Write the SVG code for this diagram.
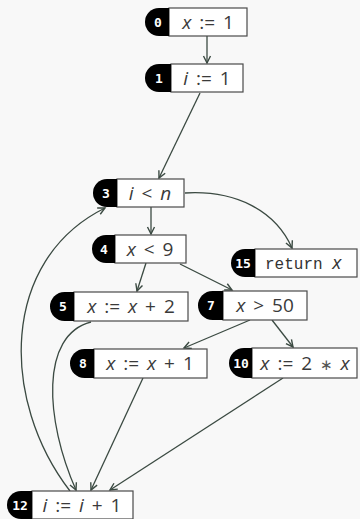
<svg xmlns="http://www.w3.org/2000/svg" width="360" height="519" viewBox="0 0 360 519">
<defs>
<marker id="ah" markerUnits="userSpaceOnUse" markerWidth="10" markerHeight="10" refX="8" refY="4.5" orient="auto">
<path d="M1,1 L8,4.5 L1,8" fill="none" stroke="#3b4a42" stroke-width="1.4"/>
</marker>
</defs>
<style>
.box{fill:#fff;stroke:#4a4a4a;stroke-width:1.2}
.tab{fill:#000}
.num{font-family:"DejaVu Sans Mono",monospace;font-weight:bold;font-size:13px;fill:#fff;text-anchor:middle}
.lbl{font-family:"Open Sans","DejaVu Sans",sans-serif;font-size:19px;fill:#3a3a3a;text-anchor:middle;word-spacing:3px}
.mono{font-family:"Liberation Mono",monospace;font-size:16px;fill:#333}
.it{font-style:italic}
.ast{font-family:"DejaVu Sans",sans-serif;font-size:15px;fill:#555}
.e{fill:none;stroke:#3b4a42;stroke-width:1.3;marker-end:url(#ah)}
</style>
<rect width="360" height="519" fill="#f8f8f8"/>
<g id="edges">
<path class="e" d="M207,36 L207,63"/>
<path class="e" d="M200,93 L159,178"/>
<path class="e" d="M151,207 L151,234"/>
<path class="e" d="M185,193 C235,190 275,210 292,248"/>
<path class="e" d="M146,263 L137,291"/>
<path class="e" d="M180,264 L232,290"/>
<path class="e" d="M250,320 L184,348"/>
<path class="e" d="M272,320 L293,347"/>
<path class="e" d="M91,322 C40,335 45,420 76,490"/>
<path class="e" d="M143,378 L91,490"/>
<path class="e" d="M283,378 L110,490"/>
<path class="e" d="M70,491 C0,400 0,260 105,208"/>
</g>
<g id="n0">
<rect class="box" x="169" y="8" width="78" height="28"/>
<path class="tab" d="M169,8 H159 A14,14 0 0 0 159,36 H169 Z"/>
<text class="num" x="158" y="26.5">0</text>
<text class="lbl" x="208" y="29"><tspan class="it">x</tspan> := 1</text>
</g>
<g id="n1">
<rect class="box" x="171" y="64" width="72" height="28"/>
<path class="tab" d="M171,64 H159 A14,14 0 0 0 159,92 H171 Z"/>
<text class="num" x="159" y="82.5">1</text>
<text class="lbl" x="207" y="85"><tspan class="it">i</tspan> := 1</text>
</g>
<g id="n3">
<rect class="box" x="117" y="179" width="67" height="28"/>
<path class="tab" d="M117,179 H107 A14,14 0 0 0 107,207 H117 Z"/>
<text class="num" x="106" y="197.5">3</text>
<text class="lbl" x="150" y="200"><tspan class="it">i</tspan> &lt; <tspan class="it">n</tspan></text>
</g>
<g id="n4">
<rect class="box" x="115" y="235" width="71" height="28"/>
<path class="tab" d="M115,235 H106 A14,14 0 0 0 106,263 H115 Z"/>
<text class="num" x="104" y="253.5">4</text>
<text class="lbl" x="150" y="256"><tspan class="it">x</tspan> &lt; 9</text>
</g>
<g id="n15">
<rect class="box" x="255" y="249" width="102" height="28"/>
<path class="tab" d="M255,249 H245 A14,14 0 0 0 245,277 H255 Z"/>
<text class="num" x="243" y="267.5">15</text>
<text class="mono" x="265" y="268.5">return <tspan class="it" font-family="Open Sans, sans-serif" font-size="19">x</tspan></text>
</g>
<g id="n5">
<rect class="box" x="74" y="292" width="114" height="29"/>
<path class="tab" d="M74,292 H64.5 A14.5,14.5 0 0 0 64.5,321 H74 Z"/>
<text class="num" x="63" y="310.5">5</text>
<text class="lbl" x="131" y="313"><tspan class="it">x</tspan> := <tspan class="it">x</tspan> + 2</text>
</g>
<g id="n7">
<rect class="box" x="223" y="291" width="84" height="29"/>
<path class="tab" d="M223,291 H212.5 A14.5,14.5 0 0 0 212.5,320 H223 Z"/>
<text class="num" x="211" y="309.5">7</text>
<text class="lbl" x="265" y="312"><tspan class="it">x</tspan> &gt; 50</text>
</g>
<g id="n8">
<rect class="box" x="94" y="349" width="113" height="29"/>
<path class="tab" d="M94,349 H84.5 A14.5,14.5 0 0 0 84.5,378 H94 Z"/>
<text class="num" x="83" y="367.5">8</text>
<text class="lbl" x="150" y="370"><tspan class="it">x</tspan> := <tspan class="it">x</tspan> + 1</text>
</g>
<g id="n10">
<rect class="box" x="252" y="348" width="105" height="30"/>
<path class="tab" d="M252,348 H244 A15,15 0 0 0 244,378 H252 Z"/>
<text class="num" x="241" y="367.5">10</text>
<text class="lbl" x="305" y="370"><tspan class="it">x</tspan> := 2 <tspan class="ast">∗</tspan> <tspan class="it">x</tspan></text>
</g>
<g id="n12">
<rect class="box" x="32" y="491" width="101" height="28"/>
<path class="tab" d="M32,491 H21 A14,14 0 0 0 21,519 H32 Z"/>
<text class="num" x="20" y="509.5">12</text>
<text class="lbl" x="82" y="512"><tspan class="it">i</tspan> := <tspan class="it">i</tspan> + 1</text>
</g>
</svg>
